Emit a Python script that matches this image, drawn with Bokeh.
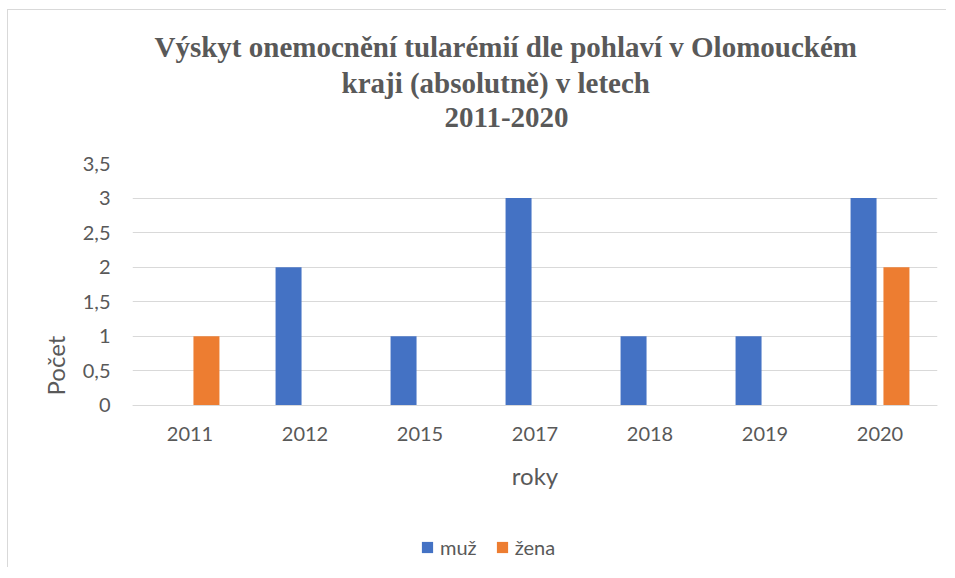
from bokeh.plotting import figure
from bokeh.models import (ColumnDataSource, FactorRange, Range1d, Legend, LegendItem,
                          Title, FixedTicker, CustomJSTickFormatter)
from bokeh.transform import dodge
from bokeh.embed import file_html
from bokeh.resources import INLINE

years = ["2011", "2012", "2015", "2017", "2018", "2019", "2020"]
muz = [0, 2, 1, 3, 1, 1, 3]
zena = [1, 0, 0, 0, 0, 0, 2]
y_ticks = [0, 0.5, 1, 1.5, 2, 2.5, 3, 3.5]
title_lines = ["Výskyt onemocnění tularémií dle pohlaví v Olomouckém",
               "kraji (absolutně) v letech",
               "2011-2020"]
title_offsets = [22, 209, 312]

TXT = "#595959"
GRID = "#d9d9d9"

src = ColumnDataSource(dict(years=years, muz=muz, zena=zena))

# the frame extends below zero so that the legend area lies inside it
p = figure(x_range=FactorRange(*years), y_range=Range1d(-2.343, 3.5),
           frame_width=805, frame_height=404,
           output_backend="svg", toolbar_location=None,
           min_border_left=124, min_border_right=9, min_border_top=153,
           min_border_bottom=0,
           styles={"border-left": "1px solid #d9d9d9", "border-top": "1px solid #d9d9d9",
                   "margin-left": "7px", "margin-top": "9px"})
p.outline_line_color = None
p.background_fill_color = "white"

r1 = p.vbar(x=dodge("years", -0.143, range=p.x_range), top="muz", width=0.226,
            source=src, color="#4472C4", line_color=None)
r2 = p.vbar(x=dodge("years", 0.143, range=p.x_range), top="zena", width=0.226,
            source=src, color="#ED7D31", line_color=None)

# spacer between the frame and the title block
p.add_layout(Title(text=" ", text_font_size="18px", standoff=9), "above")
# titles (added bottom-up)
for i, (t, off) in enumerate(reversed(list(zip(title_lines, title_offsets)))):
    p.add_layout(Title(text=t, align="left", offset=off,
                       text_font="Liberation Serif", text_font_style="bold",
                       text_font_size="29px", text_color=TXT,
                       standoff=(12 if i == 0 else 2)), "above")

p.xgrid.grid_line_color = None
p.ygrid.grid_line_color = GRID
p.ygrid.ticker = FixedTicker(ticks=y_ticks)

p.yaxis.ticker = FixedTicker(ticks=y_ticks)
p.yaxis.bounds = (0, 3.5)
p.yaxis.formatter = CustomJSTickFormatter(code="return tick.toString().replace('.', ',');")
p.yaxis.axis_line_color = None
p.yaxis.major_tick_line_color = None
p.yaxis.minor_tick_line_color = None
p.yaxis.major_label_text_font = "Lato"
p.yaxis.major_label_text_font_size = "20px"
p.yaxis.major_label_text_color = TXT
p.yaxis.major_label_standoff = 16
p.yaxis.axis_label = "Počet"
p.yaxis.axis_label_text_font = "Lato"
p.yaxis.axis_label_text_font_size = "24px"
p.yaxis.axis_label_text_font_style = "normal"
p.yaxis.axis_label_text_color = TXT
p.yaxis.axis_label_standoff = 10

p.xaxis.fixed_location = 0
p.xaxis.axis_line_color = GRID
p.xaxis.major_tick_line_color = None
p.xaxis.minor_tick_line_color = None
p.xaxis.major_label_text_font = "Lato"
p.xaxis.major_label_text_font_size = "20px"
p.xaxis.major_label_text_color = TXT
p.xaxis.major_label_standoff = 16
p.xaxis.axis_label = "roky"
p.xaxis.axis_label_text_font = "Lato"
p.xaxis.axis_label_text_font_size = "24px"
p.xaxis.axis_label_text_font_style = "normal"
p.xaxis.axis_label_text_color = TXT
p.xaxis.axis_label_standoff = 16

legend = Legend(items=[LegendItem(label="muž", renderers=[r1]),
                       LegendItem(label="žena", renderers=[r2])],
                orientation="horizontal", location=(288, 8),
                glyph_width=14, glyph_height=14, spacing=18,
                label_text_font="Lato", label_text_font_size="20px",
                label_text_color=TXT, border_line_color=None,
                background_fill_alpha=0, padding=0, margin=0,
                label_standoff=6)
p.add_layout(legend, "center")

open("out.html", "w").write(file_html(p, INLINE))
